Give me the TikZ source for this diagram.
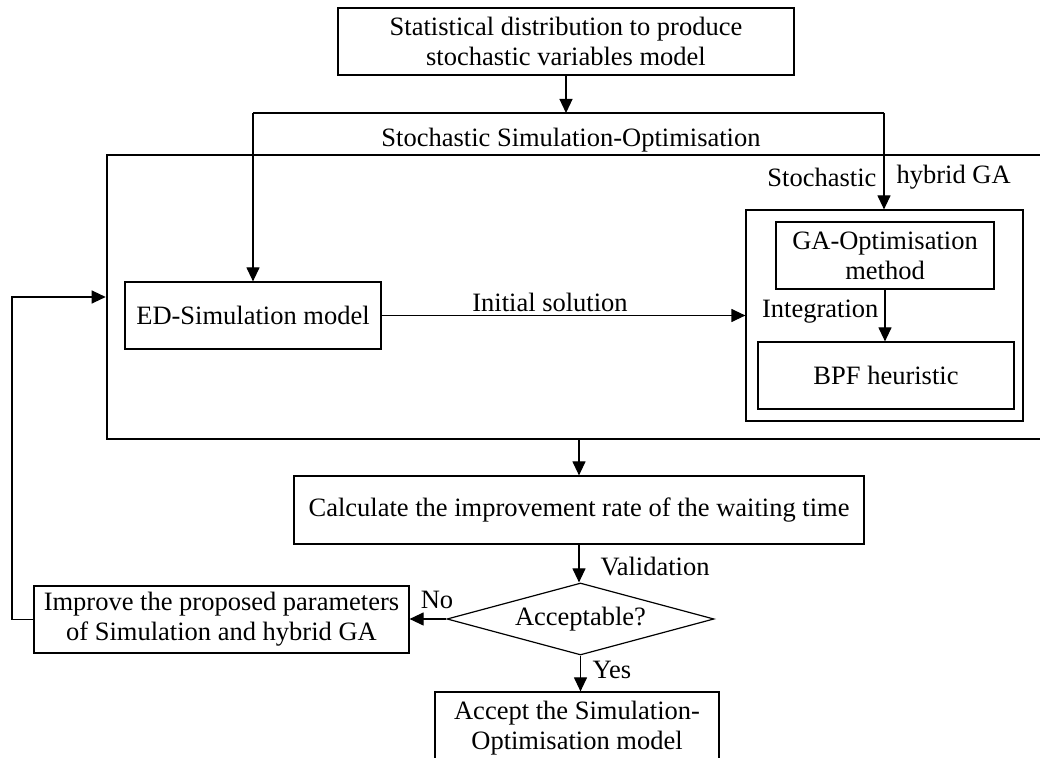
\documentclass[tikz,border=0pt]{standalone}
\usepackage{fontspec}
\setmainfont{Liberation Serif}
\usetikzlibrary{arrows.meta,shapes.geometric}
\tikzset{
  >={Triangle[length=7pt,width=6.5pt]},
  box/.style={draw,line width=0.6pt,inner sep=0pt,align=center},
  lbl/.style={inner sep=0pt},
}
\begin{document}
\begin{tikzpicture}[x=0.5pt,y=-0.5pt,line width=0.6pt,font=\fontsize{13.25}{15}\selectfont]
\useasboundingbox (0,0) rectangle (1040,758);
\clip (0,0) rectangle (1040,758);
% boxes
\node[box,minimum width=228pt,minimum height=33.5pt](dist) at (566,41.5){Statistical distribution to produce\\stochastic variables model};
\node[box,line width=1.3pt,minimum width=471.5pt,minimum height=142pt](sso) at (578.5,297){};
\node[box,minimum width=128pt,minimum height=33.5pt](ed) at (253,315.5){ED-Simulation model};
\node[box,minimum width=138.5pt,minimum height=105.5pt](hga) at (884.5,315.5){};
\node[box,minimum width=109pt,minimum height=33.5pt](gaopt) at (885,255.5){GA-Optimisation\\method};
\node[box,minimum width=128pt,minimum height=33.5pt](bpf) at (886,375.5){BPF heuristic};
\node[box,minimum width=285pt,minimum height=34pt](calc) at (579,510){Calculate the improvement rate of the waiting time};
\node[box,diamond,aspect=3.7,minimum width=133.5pt,minimum height=36pt](acc) at (580.5,619){Acceptable?};
\node[box,minimum width=187.5pt,minimum height=33.5pt](imp) at (221.5,619.5){Improve the proposed parameters\\of Simulation and hybrid GA};
\node[box,minimum width=142pt,minimum height=36pt](accm) at (577,728){Accept the Simulation-\\Optimisation model};
% labels
\node[lbl](ssolbl) at (571,140){Stochastic Simulation-Optimisation};
\node[lbl,anchor=east](stoch) at (877,177){Stochastic};
\node[lbl,anchor=west](hyb) at (896,177){hybrid GA};
\node[lbl](init) at (550,302){Initial solution};
\node[lbl,anchor=east](integ) at (879,312){Integration};
\node[lbl,anchor=west](valid) at (600,567){Validation};
\node[lbl](no) at (437,600){No};
\node[lbl,anchor=west](yes) at (592,670){Yes};
% connectors
\coordinate(jl) at (253,113);
\coordinate(jr) at (884,113);
\coordinate(fb) at (12,297);
\draw[->](dist.south)--(dist.south|-jl);
\draw(jl)--(jr);
\draw[->](jl)--(ed.north);
\draw[->](jr)--(jr|-hga.north);
\draw[->](ed.east)--(hga.west);
\draw[->](gaopt.south)--(gaopt.south|-bpf.north);
\draw[->](sso.south-|calc.north)--(calc.north);
\draw[->](calc.south)--(calc.south|-acc.north);
\draw[->](acc.west)--(acc.west-|imp.east);
\draw[->](acc.south)--(acc.south|-accm.north);
\draw[->](imp.west)-|(fb)--(sso.west);
\end{tikzpicture}
\end{document}
